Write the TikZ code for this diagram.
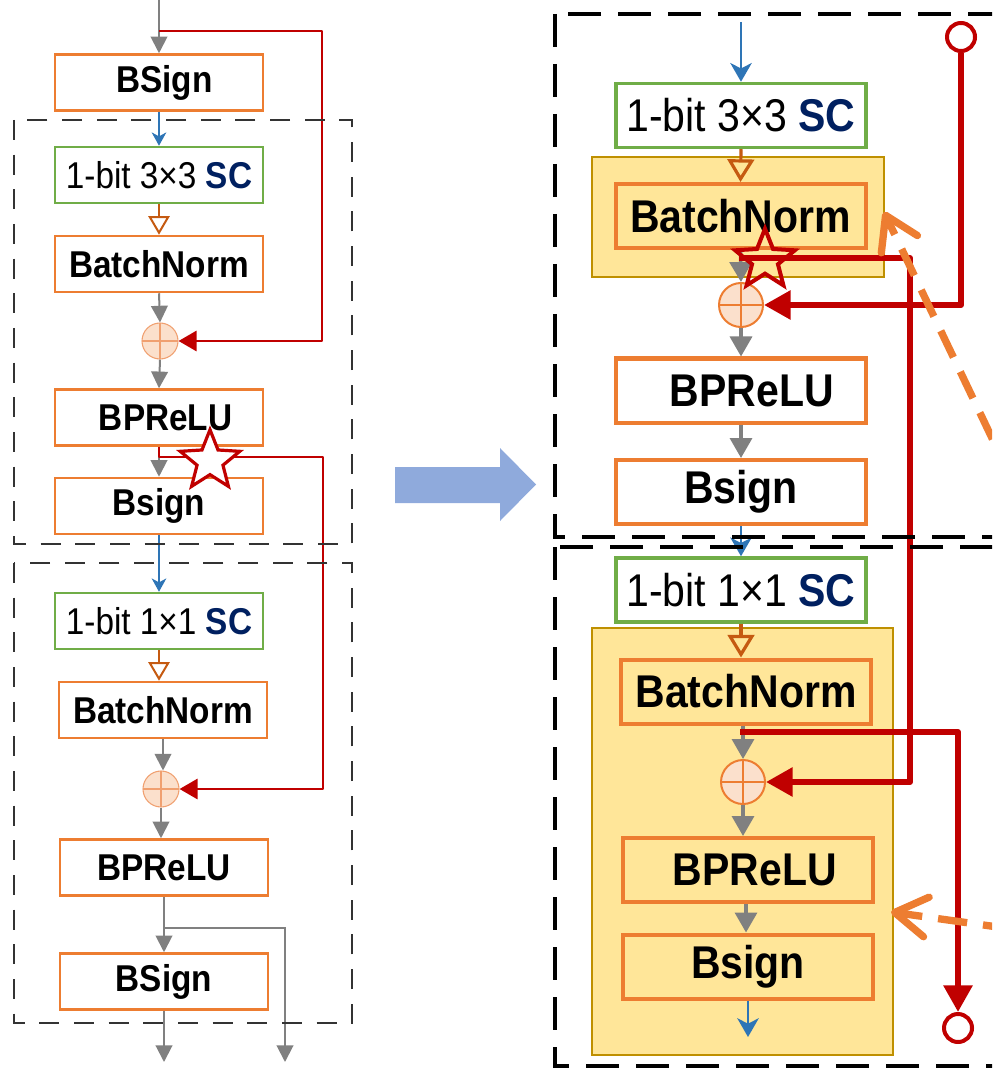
\documentclass[tikz,border=0pt]{standalone}
\usepackage{fontspec}
\usepackage{graphicx}
\setmainfont{Liberation Sans}
\usetikzlibrary{arrows.meta,shapes.geometric}
\definecolor{cOrange}{HTML}{ED7D31}
\definecolor{cDOrange}{HTML}{C55A11}
\definecolor{cGreen}{HTML}{70AD47}
\definecolor{cBlue}{HTML}{2E75B6}
\definecolor{cNavy}{HTML}{002060}
\definecolor{cRed}{HTML}{C00000}
\definecolor{cGray}{HTML}{808080}
\definecolor{cYellow}{HTML}{FFE699}
\definecolor{cGold}{HTML}{BF9000}
\definecolor{cPeach}{HTML}{FBE0CC}
\definecolor{cLOrange}{HTML}{F0A070}
\definecolor{cArrow}{HTML}{8FAADC}
% box labels are set slightly taller than the plain font
\newcommand{\tallt}[1]{\scalebox{1}[1.12]{#1}}
\begin{document}
\begin{tikzpicture}[x=0.75pt,y=-0.75pt,
  % left (original block) styles
  lbox/.style={draw=cOrange, line width=1.9pt, fill=white, inner sep=0pt,
    minimum width=156pt, minimum height=42pt,
    font=\fontsize{25}{30}\selectfont\bfseries},
  lsc/.style={lbox, draw=cGreen, font=\fontsize{25}{30}\selectfont},
  lplus/.style={circle, draw=cLOrange, line width=0.8pt, fill=cPeach,
    minimum size=27pt, inner sep=0pt,
    path picture={\draw[cLOrange, line width=0.8pt]
      (path picture bounding box.north) -- (path picture bounding box.south)
      (path picture bounding box.west) -- (path picture bounding box.east);}},
  lgray/.style={draw=cGray, line width=1.5pt, -{Triangle[length=12.5pt,width=12.5pt]}},
  lblue/.style={draw=cBlue, line width=1.2pt, -{Stealth[length=10pt,width=11pt,inset=3pt]}},
  lopen/.style={draw=cDOrange, line width=1.5pt,
    -{Triangle[open,length=14pt,width=16pt,line width=1.5pt]}},
  lred/.style={draw=cRed, line width=2.2pt, line join=round,
    -{Triangle[length=13.5pt,width=15pt]}},
  lframe/.style={draw=black!80, line width=1.5pt, dash pattern=on 15pt off 11pt},
  % right (fused block) styles
  rbox/.style={draw=cOrange, line width=3pt, fill=white, inner sep=0pt,
    minimum width=187.5pt, minimum height=48pt,
    font=\fontsize{30.75}{36}\selectfont\bfseries},
  rsc/.style={rbox, draw=cGreen, line width=2.6pt, font=\fontsize{30.75}{36}\selectfont},
  ybox/.style={draw=cGold, line width=1.5pt, fill=cYellow, inner sep=0pt},
  rplus/.style={circle, draw=cOrange, line width=1.5pt, fill=cPeach,
    minimum size=33pt, inner sep=0pt,
    path picture={\draw[cOrange, line width=1.5pt]
      (path picture bounding box.north) -- (path picture bounding box.south)
      (path picture bounding box.west) -- (path picture bounding box.east);}},
  rgray/.style={draw=cGray, line width=2.6pt, -{Triangle[length=15pt,width=16.5pt]}},
  rblue/.style={draw=cBlue, line width=2pt, -{Stealth[length=14pt,width=16pt,inset=4pt]}},
  ropen/.style={draw=cDOrange, line width=2.4pt,
    -{Triangle[open,length=17pt,width=20pt,line width=2.4pt]}},
  rred/.style={draw=cRed, line width=4.5pt, line join=round,
    -{Triangle[length=20pt,width=21pt]}},
  rring/.style={circle, draw=cRed, line width=3pt, fill=white,
    minimum size=21pt, inner sep=0pt},
  rframe/.style={draw=black, line width=3pt, dash pattern=on 25pt off 12.5pt},
  hint/.style={draw=cOrange, line width=5.5pt, dash pattern=on 22pt off 12pt,
    -{Straight Barb[length=24pt,width=30pt,line width=5.5pt,round]}},
  starmark/.style={star, star points=5, star point ratio=2.3, draw=cRed,
    inner sep=0pt, minimum size=47pt}
]
\useasboundingbox (0,0) rectangle (992,1069);
\clip (0,0) rectangle (992,1069);

% ---------- fused blocks: yellow groups ----------
\node[ybox, minimum width=219pt, minimum height=90pt] (g1) at (738,217) {};
\node[ybox, minimum width=225.75pt, minimum height=320.25pt] (g2) at (742.5,841.5) {};

% ---------- left column ----------
\node[lbox] (lbs0) at (159,82.5) {\tallt{\hspace{8pt}BSign}};
\node[lsc]  (lsc1) at (159,175) {\tallt{1-bit 3×3 \textbf{\color{cNavy}SC}}};
\node[lbox] (lbn1) at (159,264) {\tallt{BatchNorm}};
\node[lplus] (lc1) at (160,341) {};
\node[lbox] (lbp1) at (159,417.5) {\tallt{\hspace{10pt}BPReLU}};
\node[lbox] (lbs1) at (159,506) {\tallt{Bsign}};
\node[lsc]  (lsc2) at (159,621) {\tallt{1-bit 1×1 \textbf{\color{cNavy}SC}}};
\node[lbox] (lbn2) at (163,710) {\tallt{BatchNorm}};
\node[lplus] (lc2) at (161,789) {};
\node[lbox] (lbp2) at (164,867.5) {\tallt{BPReLU}};
\node[lbox] (lbs2) at (164,981.5) {\tallt{BSign}};

\coordinate (lin) at (159,0);
\coordinate (lt0) at (159,31);
\coordinate (lk1) at (322,31);
\coordinate (lk2) at (323,457);
\coordinate (lbr) at (164,928);
\coordinate (lendA) at (164,1062);
\coordinate (lendB) at (285,1062);

\draw[lgray] (lin) -- (lbs0.north);
\draw[lblue] (lbs0.south) -- (lsc1.north);
\draw[lopen] (lsc1.south) -- (lbn1.north);
\draw[lgray] (lbn1.south) -- (lc1.north);
\draw[lgray] (lc1.south) -- (lbp1.north);
\draw[lgray] (lbp1.south) -- (lbs1.north);
\draw[lblue] (lbs1.south) -- (lsc2.north);
\draw[lopen] (lsc2.south) -- (lsc2.south |- lbn2.north);
\draw[lgray] (lbn2.south) -- (lbn2.south |- lc2.north);
\draw[lgray] (lc2.south) -- (lc2.south |- lbp2.north);
\draw[lgray] (lbp2.south) -- (lbs2.north);
\draw[lgray] (lbr) -| (lendB);
\draw[lgray] (lbs2.south) -- (lendA);

\draw[lred] (lt0) -- (lk1) |- (lc1.east);
\draw[lred] (lbp1.south) |- (lk2) |- (lc2.east);
\node[starmark, fill=white, line width=2.4pt] (lstar) at (210,461) {};

\draw[lframe] (14,120) rectangle (352,544);
\draw[lframe] (14,563) rectangle (352,1023);

% ---------- transformation arrow ----------
\fill[cArrow] (395,467) -- (500,467) -- (500,448) -- (536,484.5) -- (500,521)
  -- (500,503) -- (395,503) -- cycle;

% ---------- right column ----------
\node[rsc]  (rsc1) at (741,115.5) {\tallt{1-bit 3×3 \textbf{\color{cNavy}SC}}};
\node[rbox, fill=none] (rbn1) at (740.5,216) {\tallt{BatchNorm}};
\node[rplus] (rc1) at (741,305) {};
\node[rbox] (rbp1) at (741,390.5) {\tallt{\hspace{16pt}BPReLU}};
\node[rbox] (rbs1) at (741,492) {\tallt{Bsign}};
\node[rsc]  (rsc2) at (741,590) {\tallt{1-bit 1×1 \textbf{\color{cNavy}SC}}};
\node[rbox, fill=none] (rbn2) at (746,691.5) {\tallt{BatchNorm}};
\node[rplus] (rc2) at (743,782) {};
\node[rbox, fill=none] (rbp2) at (748,870) {\tallt{\hspace{10pt}BPReLU}};
\node[rbox, fill=none] (rbs2) at (748,966.5) {\tallt{Bsign}};

\node[rring] (rin) at (961,37) {};
\node[rring] (rout) at (958,1028) {};

\coordinate (rtop) at (741,22);
\coordinate (rt1) at (739,258);
\coordinate (rj1) at (910,258);
\coordinate (rt2) at (740,732);
\coordinate (rend) at (748,1037);
\coordinate (rx) at (746,0);

\draw[rblue] (rtop) -- (rsc1.north);
\draw[ropen] (rsc1.south) -- (rbn1.north);
\draw[rgray] (rbn1.south) -- (rc1.north);
\draw[rgray] (rc1.south) -- (rbp1.north);
\draw[rgray] (rbp1.south) -- (rbs1.north);
\draw[rblue] (rbs1.south) -- (rsc2.north);
\draw[ropen] (rsc2.south) -- (rsc2.south |- rbn2.north);
\draw[rgray] (rc2.north |- rbn2.south) -- (rc2.north);
\draw[rgray] (rc2.south) -- (rc2.south |- rbp2.north);
\draw[rgray] (rx |- rbp2.south) -- (rx |- rbs2.north);
\draw[rblue] (rbs2.south) -- (rend);

\draw[rred] (rin.south) |- (rc1.east);
\draw[rred] (rt1) -- (rj1) |- (rc2.east);
\draw[rred] (rt2) -| (rout.north);
\node[starmark, line width=3pt] (rstar) at (765,260) {};

\draw[rframe] (555,14) rectangle (1030,537);
\draw[rframe] (555,547) rectangle (1030,1066);

% ---------- hints pointing at the fused groups ----------
\coordinate (oa1) at (1012,480);
\coordinate (oh1) at (884,212);
\coordinate (oa2) at (1012,929);
\coordinate (oh2) at (891,912);
\draw[hint] (oa1) -- (oh1);
\draw[hint] (oa2) -- (oh2);
\end{tikzpicture}
\end{document}
